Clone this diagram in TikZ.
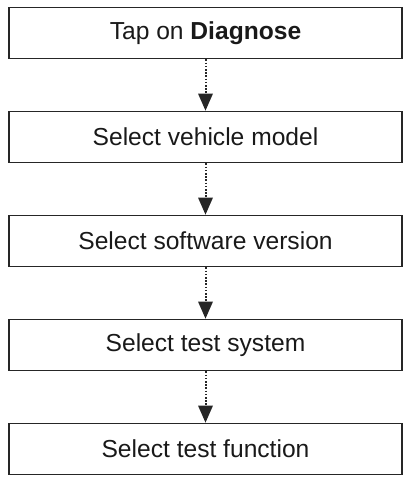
\documentclass[tikz,border=0pt]{standalone}
\usepackage{fontspec}
\setmainfont{Liberation Sans}
\usetikzlibrary{arrows.meta}
\begin{document}
\begin{tikzpicture}[x=1pt,y=-1pt,
  stepbox/.style={draw=black!85,line width=1.8pt,minimum width=393pt,minimum height=51pt,inner sep=0pt,font=\fontsize{24.6}{28}\selectfont,text=black!90},
  flow/.style={line width=2pt,dash pattern=on 1.6pt off 1.6pt,black!85,-{Triangle[width=15pt,length=17pt,line width=0pt]}}]
\useasboundingbox (0,0) rectangle (414,480);
\node[stepbox] (s1) at (205.5,33) {Tap on \textbf{Diagnose}};
\node[stepbox] (s2) at (205.5,137) {Select vehicle model};
\node[stepbox] (s3) at (205.5,241) {Select software version};
\node[stepbox] (s4) at (205.5,345) {Select test system};
\node[stepbox] (s5) at (205.5,449) {Select test function};
\draw[flow] (s1) -- (s2);
\draw[flow] (s2) -- (s3);
\draw[flow] (s3) -- (s4);
\draw[flow] (s4) -- (s5);
\end{tikzpicture}
\end{document}
